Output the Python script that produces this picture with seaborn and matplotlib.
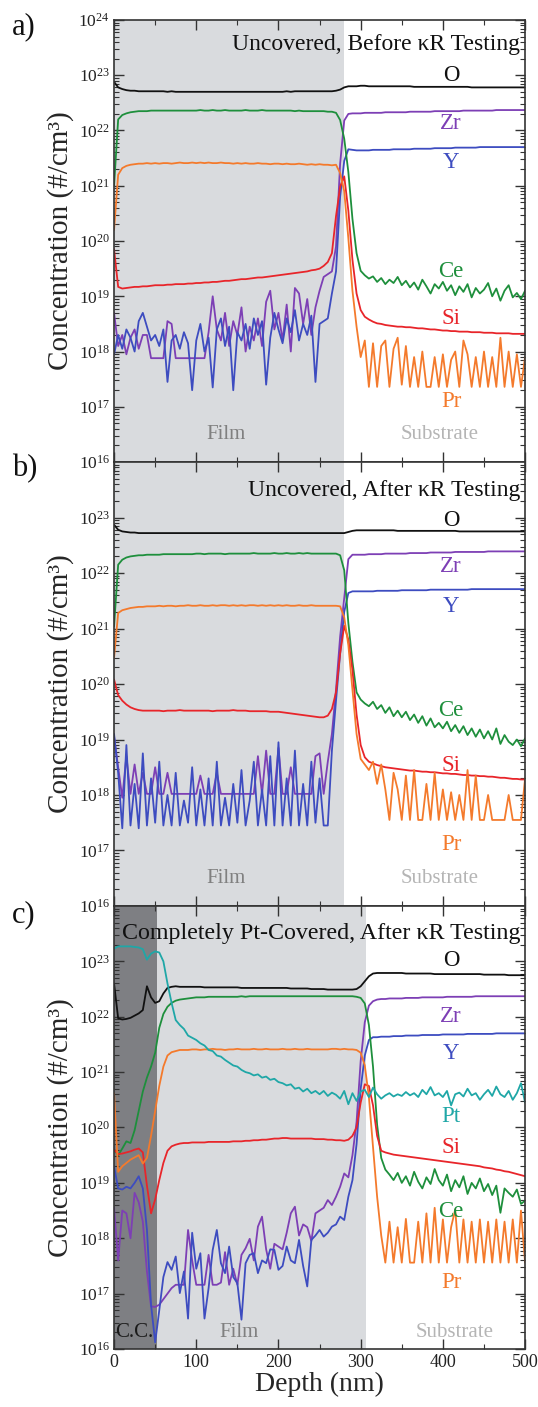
import numpy as np
import pandas as pd
import seaborn as sns
import matplotlib
matplotlib.use("Agg")
import matplotlib.pyplot as plt
from matplotlib.ticker import LogLocator, NullFormatter, MultipleLocator

# depth grid of the SIMS profiles (nm)
depth = np.arange(0, 501, 5)

# ---------- a) uncovered, before kR testing (log10 of #/cm3) ----------
O_a = [22.88, 22.78, 22.75, 22.73, 22.72, 22.72, 22.71, 22.71, 22.71, 22.71,
       22.71, 22.71, 22.71, 22.70, 22.71, 22.70, 22.70, 22.70, 22.70, 22.70,
       22.70, 22.70, 22.70, 22.70, 22.70, 22.70, 22.70, 22.70, 22.70, 22.70,
       22.70, 22.70, 22.70, 22.70, 22.70, 22.70, 22.70, 22.70, 22.70, 22.70,
       22.70, 22.70, 22.71, 22.70, 22.71, 22.71, 22.71, 22.71, 22.71, 22.71,
       22.71, 22.71, 22.71, 22.71, 22.72, 22.74, 22.78, 22.80, 22.80, 22.80,
       22.81, 22.81, 22.80, 22.80, 22.80, 22.80, 22.80, 22.80, 22.80, 22.80,
       22.80, 22.80, 22.80, 22.79, 22.79, 22.79, 22.79, 22.79, 22.79, 22.79,
       22.79, 22.79, 22.79, 22.79, 22.79, 22.79, 22.79, 22.78, 22.78, 22.78,
       22.78, 22.78, 22.78, 22.78, 22.78, 22.78, 22.78, 22.78, 22.78, 22.78,
       22.78]
Zr_a = [18.70, 18.10, 18.30, 17.95, 18.25, 18.40, 18.05, 18.30, 18.30, 17.88,
        17.88, 17.88, 17.88, 18.55, 18.50, 17.88, 17.88, 17.88, 17.88, 17.88,
        17.88, 17.88, 17.88, 18.35, 19.00, 18.40, 18.20, 18.70, 18.10, 18.55,
        18.30, 18.80, 18.00, 18.45, 18.20, 18.60, 18.10, 18.90, 19.10, 18.40,
        18.70, 18.20, 18.85, 18.00, 19.15, 19.05, 18.50, 18.95, 18.30, 18.80,
        19.10, 19.35, 19.40, 19.45, 19.90, 21.40, 22.18, 22.30, 22.31, 22.31,
        22.31, 22.32, 22.32, 22.32, 22.32, 22.32, 22.33, 22.33, 22.33, 22.33,
        22.33, 22.33, 22.34, 22.34, 22.34, 22.34, 22.34, 22.34, 22.35, 22.35,
        22.35, 22.35, 22.35, 22.35, 22.35, 22.36, 22.36, 22.36, 22.36, 22.36,
        22.36, 22.36, 22.36, 22.37, 22.37, 22.37, 22.37, 22.37, 22.37, 22.37,
        22.37]
Y_a = [17.95, 18.30, 18.05, 18.40, 18.25, 18.00, 18.55, 18.70, 18.45, 18.20,
       18.30, 18.10, 18.40, 17.45, 18.20, 18.30, 18.05, 18.35, 18.15, 17.30,
       18.20, 18.50, 18.00, 18.25, 17.35, 18.40, 18.60, 18.10, 18.45, 17.30,
       18.35, 18.20, 18.50, 18.05, 18.60, 18.30, 18.55, 17.40, 18.25, 18.70,
       18.40, 18.15, 18.60, 18.35, 18.75, 18.20, 18.50, 18.30, 18.65, 17.45,
       18.50, 18.55, 18.60, 19.05, 19.45, 20.80, 21.45, 21.66, 21.65, 21.64,
       21.64, 21.64, 21.64, 21.65, 21.65, 21.65, 21.65, 21.65, 21.66, 21.66,
       21.66, 21.66, 21.66, 21.67, 21.67, 21.67, 21.67, 21.67, 21.68, 21.68,
       21.68, 21.68, 21.68, 21.69, 21.69, 21.69, 21.69, 21.69, 21.69, 21.70,
       21.70, 21.70, 21.70, 21.70, 21.70, 21.70, 21.70, 21.70, 21.70, 21.70,
       21.70]
Ce_a = [21.00, 22.20, 22.28, 22.31, 22.33, 22.34, 22.35, 22.35, 22.35, 22.36,
        22.36, 22.36, 22.36, 22.36, 22.36, 22.36, 22.36, 22.36, 22.36, 22.36,
        22.36, 22.37, 22.36, 22.36, 22.37, 22.36, 22.36, 22.37, 22.36, 22.36,
        22.36, 22.36, 22.37, 22.36, 22.36, 22.36, 22.37, 22.36, 22.36, 22.36,
        22.36, 22.36, 22.36, 22.36, 22.35, 22.36, 22.35, 22.35, 22.35, 22.35,
        22.35, 22.35, 22.34, 22.34, 22.32, 22.19, 21.85, 21.25, 20.40, 19.78,
        19.46, 19.38, 19.32, 19.36, 19.26, 19.33, 19.22, 19.30, 19.24, 19.35,
        19.20, 19.28, 19.16, 19.25, 19.12, 19.30, 19.18, 19.05, 19.22, 19.14,
        19.26, 19.10, 19.20, 19.02, 19.18, 19.08, 19.22, 18.98, 19.15, 19.05,
        19.12, 19.24, 19.00, 19.14, 18.92, 19.10, 19.20, 18.98, 19.06, 18.95,
        19.10]
Si_a = [19.85, 19.17, 19.14, 19.15, 19.16, 19.17, 19.17, 19.18, 19.18, 19.19,
        19.20, 19.20, 19.20, 19.21, 19.21, 19.22, 19.22, 19.22, 19.23, 19.23,
        19.24, 19.24, 19.25, 19.25, 19.26, 19.26, 19.27, 19.28, 19.28, 19.29,
        19.30, 19.31, 19.31, 19.32, 19.33, 19.34, 19.34, 19.35, 19.36, 19.37,
        19.38, 19.39, 19.40, 19.41, 19.42, 19.43, 19.44, 19.45, 19.47, 19.48,
        19.50, 19.55, 19.62, 19.78, 20.45, 20.98, 21.17, 20.55, 19.66, 19.05,
        18.75, 18.63, 18.58, 18.54, 18.51, 18.50, 18.48, 18.47, 18.46, 18.45,
        18.45, 18.44, 18.44, 18.43, 18.42, 18.42, 18.41, 18.40, 18.40, 18.39,
        18.38, 18.38, 18.37, 18.37, 18.36, 18.36, 18.36, 18.35, 18.35, 18.35,
        18.34, 18.34, 18.34, 18.33, 18.33, 18.33, 18.33, 18.32, 18.32, 18.32,
        18.32]
Pr_a = [20.20, 21.20, 21.32, 21.36, 21.38, 21.39, 21.40, 21.40, 21.41, 21.40,
        21.41, 21.40, 21.41, 21.41, 21.40, 21.41, 21.42, 21.41, 21.41, 21.42,
        21.41, 21.42, 21.41, 21.42, 21.41, 21.41, 21.42, 21.41, 21.41, 21.40,
        21.41, 21.40, 21.41, 21.40, 21.40, 21.41, 21.40, 21.40, 21.39, 21.40,
        21.40, 21.39, 21.40, 21.39, 21.39, 21.40, 21.39, 21.38, 21.39, 21.38,
        21.39, 21.38, 21.38, 21.37, 21.38, 21.23, 20.90, 20.05, 19.10, 18.45,
        17.90, 18.20, 17.36, 18.15, 17.36, 18.10, 18.20, 17.36, 18.05, 18.25,
        17.40, 18.10, 17.36, 17.90, 17.36, 18.00, 17.36, 17.36, 17.90, 17.36,
        17.95, 17.36, 17.85, 18.00, 17.36, 18.20, 17.95, 17.36, 17.90, 17.36,
        18.00, 17.36, 17.90, 17.36, 18.25, 17.36, 18.00, 17.36, 17.95, 17.36,
        17.90]

# ---------- b) uncovered, after kR testing ----------
O_b = [22.87, 22.78, 22.75, 22.74, 22.73, 22.73, 22.72, 22.72, 22.72, 22.72,
       22.72, 22.72, 22.72, 22.72, 22.72, 22.72, 22.72, 22.72, 22.72, 22.72,
       22.72, 22.72, 22.72, 22.72, 22.72, 22.72, 22.72, 22.72, 22.72, 22.72,
       22.72, 22.72, 22.72, 22.72, 22.72, 22.72, 22.72, 22.72, 22.72, 22.72,
       22.72, 22.72, 22.72, 22.72, 22.72, 22.72, 22.72, 22.72, 22.72, 22.72,
       22.72, 22.72, 22.72, 22.72, 22.72, 22.72, 22.72, 22.74, 22.76, 22.77,
       22.77, 22.77, 22.77, 22.77, 22.77, 22.77, 22.77, 22.77, 22.77, 22.76,
       22.76, 22.76, 22.76, 22.76, 22.76, 22.76, 22.76, 22.76, 22.76, 22.76,
       22.76, 22.76, 22.76, 22.76, 22.75, 22.75, 22.75, 22.75, 22.75, 22.75,
       22.75, 22.75, 22.75, 22.75, 22.75, 22.75, 22.75, 22.75, 22.75, 22.75,
       22.75]
Zr_b = [19.05, 18.50, 17.95, 18.70, 18.02, 18.55, 18.02, 18.40, 18.02, 18.02,
        18.50, 18.02, 18.02, 18.40, 18.02, 18.02, 18.02, 18.02, 18.02, 18.02,
        18.02, 18.35, 18.02, 18.02, 18.02, 18.40, 18.02, 18.02, 18.02, 18.02,
        18.02, 18.02, 18.02, 18.02, 18.02, 18.70, 18.02, 18.80, 18.02, 18.02,
        18.85, 18.02, 18.02, 18.50, 18.02, 18.02, 18.02, 18.02, 18.02, 18.70,
        18.75, 18.02, 18.60, 19.10, 19.90, 20.85, 21.55, 22.25, 22.33, 22.33,
        22.33, 22.33, 22.34, 22.34, 22.34, 22.34, 22.35, 22.35, 22.35, 22.35,
        22.35, 22.35, 22.36, 22.36, 22.36, 22.36, 22.36, 22.37, 22.37, 22.37,
        22.37, 22.37, 22.37, 22.38, 22.38, 22.38, 22.38, 22.38, 22.38, 22.38,
        22.38, 22.39, 22.39, 22.39, 22.39, 22.39, 22.39, 22.39, 22.39, 22.39,
        22.39]
Y_b = [19.10, 18.40, 17.40, 18.90, 17.45, 18.20, 17.40, 18.75, 17.45, 18.30,
       17.50, 18.60, 17.45, 18.00, 17.45, 18.40, 17.45, 17.90, 17.50, 18.50,
       17.45, 18.10, 17.45, 18.30, 17.45, 18.60, 17.45, 17.95, 17.45, 18.20,
       17.50, 18.45, 17.45, 17.90, 18.60, 17.45, 18.10, 17.45, 18.70, 17.45,
       18.95, 17.45, 18.30, 17.45, 18.80, 17.45, 18.20, 17.45, 18.60, 17.50,
       18.30, 17.45, 17.45, 18.80, 19.70, 20.55, 21.30, 21.64, 21.67, 21.67,
       21.67, 21.67, 21.67, 21.67, 21.68, 21.68, 21.68, 21.68, 21.68, 21.68,
       21.69, 21.69, 21.69, 21.69, 21.69, 21.69, 21.69, 21.70, 21.70, 21.70,
       21.70, 21.70, 21.70, 21.70, 21.70, 21.70, 21.70, 21.71, 21.71, 21.71,
       21.71, 21.71, 21.71, 21.71, 21.71, 21.71, 21.71, 21.71, 21.71, 21.71,
       21.71]
Ce_b = [21.04, 22.15, 22.24, 22.28, 22.30, 22.31, 22.32, 22.32, 22.33, 22.33,
        22.33, 22.33, 22.34, 22.34, 22.34, 22.34, 22.34, 22.34, 22.34, 22.34,
        22.35, 22.35, 22.34, 22.35, 22.35, 22.35, 22.35, 22.34, 22.35, 22.35,
        22.35, 22.35, 22.35, 22.35, 22.36, 22.35, 22.35, 22.35, 22.35, 22.36,
        22.35, 22.35, 22.36, 22.35, 22.35, 22.36, 22.35, 22.36, 22.35, 22.35,
        22.35, 22.35, 22.35, 22.35, 22.35, 22.32, 22.05, 21.10, 20.40, 19.85,
        19.72, 19.65, 19.60, 19.68, 19.55, 19.62, 19.48, 19.58, 19.42, 19.52,
        19.40, 19.50, 19.35, 19.45, 19.30, 19.42, 19.25, 19.38, 19.22, 19.30,
        19.20, 19.32, 19.15, 19.26, 19.12, 19.24, 19.08, 19.20, 19.05, 19.18,
        19.02, 19.15, 19.00, 19.20, 18.92, 19.08, 18.96, 18.90, 19.00, 18.88,
        19.02]
Si_b = [20.08, 19.80, 19.70, 19.63, 19.58, 19.55, 19.53, 19.52, 19.52, 19.52,
        19.52, 19.52, 19.51, 19.52, 19.52, 19.52, 19.53, 19.52, 19.52, 19.52,
        19.52, 19.52, 19.52, 19.52, 19.51, 19.52, 19.52, 19.52, 19.52, 19.53,
        19.52, 19.52, 19.52, 19.51, 19.51, 19.51, 19.51, 19.51, 19.50, 19.50,
        19.50, 19.49, 19.48, 19.47, 19.46, 19.45, 19.44, 19.43, 19.42, 19.41,
        19.40, 19.40, 19.43, 19.55, 19.85, 20.55, 21.05, 20.80, 20.25, 19.45,
        18.90, 18.68, 18.60, 18.57, 18.54, 18.52, 18.50, 18.49, 18.48, 18.47,
        18.46, 18.45, 18.44, 18.44, 18.43, 18.42, 18.42, 18.41, 18.41, 18.40,
        18.39, 18.39, 18.38, 18.38, 18.37, 18.36, 18.36, 18.35, 18.35, 18.34,
        18.34, 18.33, 18.33, 18.32, 18.31, 18.31, 18.30, 18.29, 18.29, 18.28,
        18.28]
Pr_b = [20.47, 21.28, 21.33, 21.35, 21.37, 21.38, 21.39, 21.39, 21.40, 21.40,
        21.40, 21.41, 21.40, 21.41, 21.41, 21.40, 21.41, 21.41, 21.42, 21.41,
        21.41, 21.42, 21.41, 21.41, 21.42, 21.41, 21.42, 21.42, 21.41, 21.42,
        21.41, 21.42, 21.41, 21.42, 21.42, 21.41, 21.42, 21.41, 21.42, 21.41,
        21.42, 21.41, 21.42, 21.41, 21.41, 21.42, 21.41, 21.41, 21.42, 21.41,
        21.41, 21.41, 21.41, 21.41, 21.41, 21.40, 21.20, 20.70, 19.90, 19.10,
        18.65, 18.55, 18.45, 18.60, 18.20, 18.55, 18.10, 17.55, 18.40, 18.10,
        17.55, 18.35, 17.55, 18.45, 17.55, 17.55, 18.20, 17.55, 18.40, 17.55,
        18.10, 17.55, 18.05, 17.55, 18.00, 17.55, 18.45, 17.55, 18.35, 17.55,
        17.55, 18.00, 17.55, 17.55, 17.55, 17.55, 18.00, 17.55, 17.55, 17.55,
        18.30]

# ---------- c) completely Pt-covered, after kR testing ----------
O_c = [22.60, 21.97, 21.95, 21.96, 21.98, 22.02, 22.06, 22.12, 22.55, 22.35,
       22.25, 22.28, 22.42, 22.52, 22.54, 22.55, 22.54, 22.54, 22.54, 22.54,
       22.54, 22.54, 22.53, 22.53, 22.53, 22.53, 22.53, 22.53, 22.53, 22.53,
       22.53, 22.52, 22.52, 22.52, 22.52, 22.52, 22.52, 22.52, 22.52, 22.52,
       22.52, 22.52, 22.52, 22.51, 22.51, 22.51, 22.51, 22.51, 22.50, 22.50,
       22.50, 22.50, 22.49, 22.49, 22.49, 22.49, 22.49, 22.49, 22.49, 22.50,
       22.55, 22.64, 22.73, 22.78, 22.79, 22.79, 22.79, 22.79, 22.79, 22.79,
       22.79, 22.78, 22.78, 22.78, 22.78, 22.78, 22.78, 22.78, 22.77, 22.77,
       22.77, 22.77, 22.77, 22.77, 22.77, 22.77, 22.77, 22.77, 22.77, 22.77,
       22.76, 22.76, 22.76, 22.76, 22.76, 22.76, 22.75, 22.75, 22.75, 22.75,
       22.75]
Zr_c = [18.55, 17.60, 18.50, 18.45, 18.00, 18.82, 18.65, 18.30, 17.40, 16.77,
        16.76, 16.80, 16.90, 17.00, 17.10, 17.16, 17.16, 17.16, 18.15, 17.60,
        17.16, 17.16, 17.16, 17.70, 17.16, 17.16, 17.20, 17.75, 17.16, 17.45,
        17.16, 17.70, 17.82, 17.99, 17.60, 18.21, 18.39, 17.80, 17.45, 17.90,
        17.85, 17.80, 18.10, 18.45, 18.57, 18.05, 18.25, 18.20, 17.95, 18.45,
        18.50, 18.55, 18.69, 18.60, 18.75, 18.93, 19.17, 19.10, 19.50, 20.10,
        21.20, 21.90, 22.20, 22.28, 22.31, 22.32, 22.32, 22.33, 22.33, 22.33,
        22.33, 22.34, 22.34, 22.34, 22.34, 22.35, 22.35, 22.35, 22.35, 22.35,
        22.35, 22.36, 22.36, 22.36, 22.36, 22.36, 22.36, 22.36, 22.37, 22.37,
        22.37, 22.37, 22.37, 22.37, 22.37, 22.37, 22.37, 22.37, 22.37, 22.37,
        22.37]
Y_c = [19.30, 18.90, 18.88, 18.93, 18.90, 19.00, 19.12, 18.90, 18.15, 16.80,
       16.12, 16.70, 17.30, 17.57, 17.43, 17.67, 17.01, 17.40, 16.55, 18.10,
       17.45, 17.73, 16.55, 17.10, 17.79, 18.15, 17.55, 17.37, 17.85, 17.30,
       17.19, 16.53, 17.55, 17.70, 17.73, 17.37, 17.60, 17.55, 17.80, 17.79,
       17.43, 17.50, 17.85, 17.60, 17.55, 17.97, 17.50, 17.13, 17.97, 18.05,
       18.15, 18.03, 18.10, 18.21, 18.25, 18.39, 18.33, 18.75, 19.05, 19.70,
       20.70, 21.30, 21.58, 21.63, 21.63, 21.64, 21.64, 21.64, 21.65, 21.65,
       21.65, 21.66, 21.66, 21.66, 21.66, 21.67, 21.67, 21.67, 21.67, 21.67,
       21.68, 21.68, 21.68, 21.68, 21.68, 21.68, 21.69, 21.69, 21.69, 21.69,
       21.69, 21.69, 21.69, 21.70, 21.70, 21.70, 21.70, 21.70, 21.70, 21.70,
       21.70]
Ce_c = [19.60, 19.50, 19.62, 19.75, 19.72, 19.95, 20.30, 20.65, 20.90, 21.10,
        21.35, 21.80, 22.05, 22.18, 22.25, 22.29, 22.31, 22.32, 22.33, 22.34,
        22.35, 22.35, 22.35, 22.36, 22.36, 22.36, 22.36, 22.36, 22.36, 22.36,
        22.36, 22.37, 22.36, 22.37, 22.37, 22.37, 22.37, 22.37, 22.37, 22.37,
        22.37, 22.37, 22.37, 22.37, 22.37, 22.37, 22.37, 22.37, 22.37, 22.37,
        22.37, 22.37, 22.37, 22.37, 22.37, 22.37, 22.37, 22.37, 22.37, 22.36,
        22.34, 22.24, 21.85, 21.10, 20.05, 19.45, 19.24, 19.15, 19.05, 19.18,
        19.00, 19.12, 18.95, 19.20, 19.02, 18.90, 19.10, 18.98, 19.25, 19.05,
        18.95, 19.15, 18.85, 19.05, 18.92, 19.12, 18.80, 19.00, 18.90, 19.08,
        18.85, 18.98, 18.78, 18.95, 18.46, 18.90, 18.82, 18.75, 18.88, 18.62,
        18.68]
Si_c = [19.60, 19.52, 19.53, 19.55, 19.57, 19.60, 19.62, 19.55, 18.95, 18.45,
        18.70, 19.05, 19.36, 19.58, 19.66, 19.69, 19.71, 19.72, 19.72, 19.73,
        19.73, 19.73, 19.73, 19.74, 19.74, 19.74, 19.74, 19.74, 19.74, 19.75,
        19.75, 19.75, 19.76, 19.76, 19.77, 19.77, 19.78, 19.78, 19.79, 19.80,
        19.80, 19.81, 19.81, 19.80, 19.80, 19.80, 19.80, 19.80, 19.80, 19.79,
        19.79, 19.79, 19.78, 19.78, 19.77, 19.77, 19.76, 19.78, 19.85, 20.00,
        20.45, 20.78, 20.75, 20.40, 19.85, 19.58, 19.55, 19.53, 19.51, 19.50,
        19.49, 19.48, 19.47, 19.46, 19.45, 19.44, 19.43, 19.42, 19.41, 19.40,
        19.39, 19.38, 19.37, 19.36, 19.35, 19.34, 19.33, 19.32, 19.31, 19.30,
        19.28, 19.27, 19.26, 19.24, 19.23, 19.21, 19.20, 19.18, 19.16, 19.14,
        19.12]
Pr_c = [20.62, 19.20, 19.30, 19.36, 19.42, 19.46, 19.50, 19.35, 19.45, 19.85,
        20.30, 20.75, 21.10, 21.30, 21.36, 21.38, 21.40, 21.40, 21.40, 21.41,
        21.41, 21.40, 21.41, 21.41, 21.42, 21.41, 21.41, 21.40, 21.41, 21.41,
        21.42, 21.41, 21.41, 21.41, 21.42, 21.41, 21.41, 21.42, 21.41, 21.41,
        21.41, 21.42, 21.41, 21.41, 21.42, 21.41, 21.41, 21.42, 21.41, 21.41,
        21.41, 21.41, 21.41, 21.42, 21.42, 21.41, 21.42, 21.41, 21.41, 21.40,
        21.35, 21.12, 20.55, 19.65, 18.75, 18.05, 17.56, 18.30, 17.56, 18.20,
        17.56, 18.35, 17.56, 17.56, 18.30, 17.56, 18.45, 17.56, 18.55, 17.56,
        18.34, 17.56, 18.20, 18.52, 17.56, 18.34, 17.56, 18.30, 17.56, 18.34,
        17.56, 18.30, 17.56, 18.34, 17.56, 18.30, 17.56, 18.34, 17.56, 18.50,
        17.56]
Pt_c = [23.23, 23.27, 23.27, 23.27, 23.27, 23.26, 23.25, 23.22, 23.03, 23.14,
        23.18, 23.16, 23.00, 22.60, 22.25, 21.94, 21.85, 21.78, 21.66, 21.62,
        21.58, 21.52, 21.48, 21.40, 21.38, 21.30, 21.28, 21.22, 21.17, 21.12,
        21.10, 21.04, 21.00, 20.98, 20.94, 20.96, 20.90, 20.92, 20.86, 20.88,
        20.82, 20.80, 20.76, 20.78, 20.70, 20.72, 20.65, 20.70, 20.62, 20.66,
        20.60, 20.66, 20.57, 20.63, 20.59, 20.52, 20.66, 20.42, 20.62, 20.48,
        20.65, 20.68, 20.55, 20.72, 20.60, 20.52, 20.58, 20.62, 20.56, 20.60,
        20.57, 20.64, 20.58, 20.62, 20.55, 20.68, 20.60, 20.73, 20.58, 20.62,
        20.55, 20.66, 20.40, 20.60, 20.63, 20.56, 20.70, 20.58, 20.62, 20.50,
        20.60, 20.68, 20.57, 20.74, 20.60, 20.55, 20.66, 20.50, 20.62, 20.80,
        20.45]

colors = {"O": "#111111", "Zr": "#7d3fb5", "Y": "#3d4cc0", "Ce": "#1e8f3c",
          "Si": "#e8252a", "Pr": "#f47a2c", "Pt": "#1fa7a7"}

panels = [
    {"letter": "a)", "title": "Uncovered, Before κR Testing", "film": (0, 280), "cc": None,
     "series": {"O": O_a, "Zr": Zr_a, "Y": Y_a, "Ce": Ce_a, "Si": Si_a, "Pr": Pr_a},
     "labels": {"O": 22.99, "Zr": 22.13, "Y": 21.42, "Ce": 19.44, "Si": 18.60, "Pr": 17.09},
     "title_y": 23.55, "title_size": 17, "rect": [0.212, 0.6716, 0.764, 0.3142]},
    {"letter": "b)", "title": "Uncovered, After κR Testing", "film": (0, 280), "cc": None,
     "series": {"O": O_b, "Zr": Zr_b, "Y": Y_b, "Ce": Ce_b, "Si": Si_b, "Pr": Pr_b},
     "labels": {"O": 22.95, "Zr": 22.12, "Y": 21.40, "Ce": 19.52, "Si": 18.54, "Pr": 17.11},
     "title_y": 23.49, "title_size": 17, "rect": [0.212, 0.3561, 0.764, 0.3155]},
    {"letter": "c)", "title": "Completely Pt-Covered, After κR Testing", "film": (52, 306), "cc": (0, 52),
     "series": {"O": O_c, "Zr": Zr_c, "Y": Y_c, "Ce": Ce_c, "Si": Si_c, "Pr": Pr_c, "Pt": Pt_c},
     "labels": {"O": 23.02, "Zr": 22.00, "Y": 21.34, "Pt": 20.20, "Si": 19.63, "Ce": 18.49, "Pr": 17.20},
     "title_y": 23.50, "title_size": 17.3, "rect": [0.212, 0.0412, 0.764, 0.3149]},
]

sns.set_theme(style="ticks")
plt.rcParams["font.family"] = ["Liberation Serif", "DejaVu Serif"]
plt.rcParams["mathtext.fontset"] = "custom"
plt.rcParams["mathtext.rm"] = "Liberation Serif"
plt.rcParams["mathtext.it"] = "Liberation Serif:italic"

fig = plt.figure(figsize=(5.38, 14.07), dpi=100)

letter_y = [0.981, 0.667, 0.350]
for i, p in enumerate(panels):
    ax = fig.add_axes(p["rect"])
    ax.axvspan(p["film"][0], p["film"][1], color="#d9dbde", lw=0, zorder=0)
    if p["cc"] is not None:
        ax.axvspan(p["cc"][0], p["cc"][1], color="#7e7f83", lw=0, zorder=0)

    frames = []
    for name, vals in p["series"].items():
        frames.append(pd.DataFrame({"depth": depth, "conc": 10.0 ** np.array(vals), "element": name}))
    df = pd.concat(frames, ignore_index=True)
    order = list(p["series"].keys())
    sns.lineplot(data=df, x="depth", y="conc", hue="element", hue_order=order,
                 palette=colors, legend=False, ax=ax, linewidth=1.3, estimator=None)

    ax.set_yscale("log")
    ax.set_ylim(1e16, 1e24)
    ax.set_xlim(0, 500)
    if i == 0:
        ax.set_yticks([10.0 ** k for k in range(16, 25)])
    else:
        ax.set_yticks([10.0 ** k for k in range(16, 24)])
    ax.yaxis.set_minor_locator(LogLocator(base=10, subs=np.arange(2, 10), numticks=30))
    ax.yaxis.set_minor_formatter(NullFormatter())
    ax.xaxis.set_major_locator(MultipleLocator(100))
    ax.xaxis.set_minor_locator(MultipleLocator(50))
    ax.tick_params(which="both", direction="in", top=True, right=True, colors="#333333")
    ax.tick_params(which="major", length=7, width=1.0, labelsize=13)
    ax.tick_params(which="minor", length=3.5, width=0.8)
    ax.tick_params(axis="y", labelsize=12.5, pad=3)
    for s in ax.spines.values():
        s.set_color("#333333")
        s.set_linewidth(1.2)
    for t in ax.get_xticklabels() + ax.get_yticklabels():
        t.set_color("#222222")

    ax.set_ylabel("Concentration (#/cm³)", fontsize=21, labelpad=3)
    if i == 2:
        ax.set_xlabel("Depth (nm)", fontsize=20, labelpad=1)
    else:
        ax.set_xlabel("")
        ax.set_xticklabels([])

    ax.text(494, 10 ** p["title_y"], p["title"], ha="right", va="center",
            fontsize=p["title_size"], color="#111111")
    for name, ly in p["labels"].items():
        ax.text(410, 10 ** ly, name, ha="center", va="center", fontsize=16.5, color=colors[name])

    if p["cc"] is not None:
        ax.text(24, 10 ** 16.3, "C.C.", ha="center", va="center", fontsize=15, color="#1a1a1a")
        ax.text(152, 10 ** 16.3, "Film", ha="center", va="center", fontsize=15, color="#808080")
        ax.text(414, 10 ** 16.3, "Substrate", ha="center", va="center", fontsize=15, color="#b5b5b5")
    else:
        ax.text(136, 10 ** 16.5, "Film", ha="center", va="center", fontsize=15, color="#808080")
        ax.text(396, 10 ** 16.5, "Substrate", ha="center", va="center", fontsize=15, color="#b5b5b5")

    fig.text(0.022, letter_y[i], p["letter"], fontsize=22, ha="left", va="center", color="#111111")

fig.savefig("out.png", dpi=100)
